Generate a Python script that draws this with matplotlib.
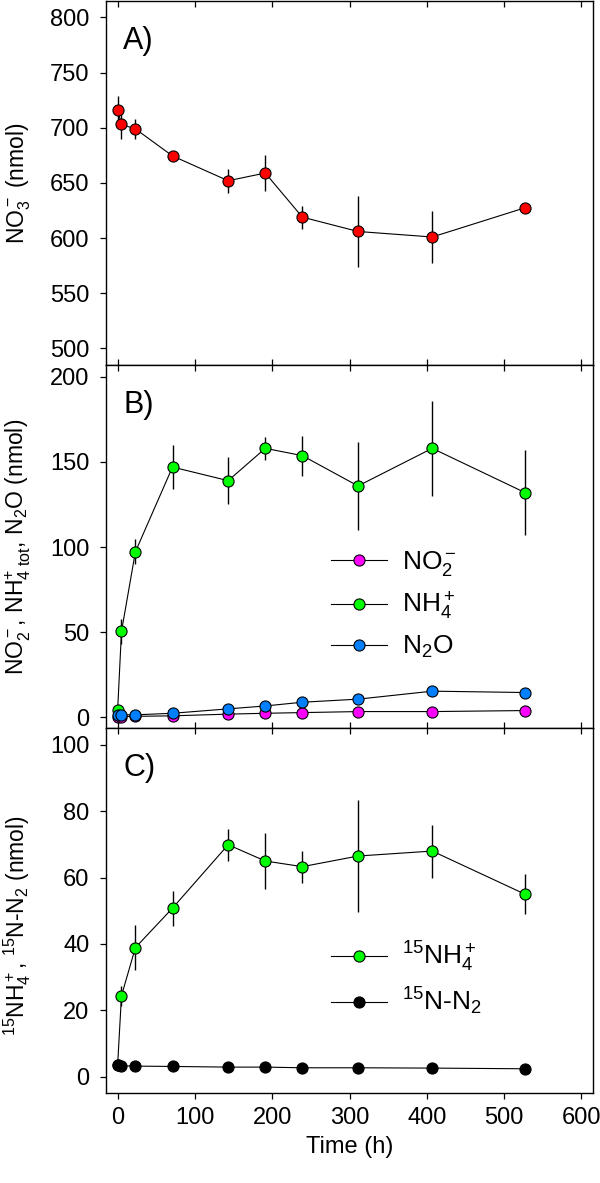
import numpy as np
import matplotlib.pyplot as plt
from matplotlib.lines import Line2D

plt.rcParams['font.family'] = ['Liberation Sans', 'DejaVu Sans']
plt.rcParams['mathtext.fontset'] = 'custom'
plt.rcParams['mathtext.rm'] = 'Liberation Sans'
plt.rcParams['mathtext.it'] = 'Liberation Sans:italic'
plt.rcParams['mathtext.bf'] = 'Liberation Sans:bold'

# sampling times (h)
time = [0, 5, 23, 71, 143, 191, 239, 311, 407, 527]

# panel A: nitrate
no3 = [716, 703, 699, 674.5, 652, 659, 619, 606, 601, 627.5]
no3_err = [13, 13, 9, 0, 11, 16.5, 10.5, 32.5, 23.5, 0]

# panel B: nitrite, ammonium, nitrous oxide
no2 = [0.3, 0.3, 0.5, 0.8, 1.8, 2.3, 2.7, 3.3, 3.3, 3.9]
nh4 = [4, 50.4, 97.2, 147, 139, 158, 153.7, 135.9, 158, 132]
nh4_err = [0, 7.4, 7.4, 12.7, 13.9, 6.9, 11.7, 26, 28, 25]
n2o = [1.5, 1.4, 1.4, 2.3, 4.9, 6.6, 8.8, 10.6, 15.3, 14.5]

# panel C: 15N labelled pools
nh4_15 = [3.5, 24.4, 38.9, 50.8, 69.9, 65.0, 63.3, 66.5, 68.0, 55.0]
nh4_15_err = [0, 3, 6.8, 5.3, 4.8, 8.5, 4.8, 16.8, 8.0, 6.0]
n2_15 = [3.5, 3.3, 3.2, 3.1, 2.9, 2.9, 2.7, 2.7, 2.6, 2.4]

RED = '#ff0000'
GREEN = '#00ff00'
MAGENTA = '#ff00ff'
BLUE = '#0080ff'

fig = plt.figure(figsize=(6, 11.83), dpi=100)
left, width = 0.1767, 0.8117
axA = fig.add_axes([left, 0.6915, width, 0.3077])
axB = fig.add_axes([left, 0.3844, width, 0.3071])
axC = fig.add_axes([left, 0.0758, width, 0.3086])

ms = 8
lw = 0.8

def series(ax, y, color, err=None, z=3):
    if err is not None:
        ax.errorbar(time, y, yerr=err, fmt='none', ecolor='black',
                    elinewidth=1.0, capsize=0, zorder=z)
    ax.plot(time, y, '-o', color='black', lw=lw, markerfacecolor=color,
            markeredgecolor='black', markeredgewidth=0.8, markersize=ms, zorder=z)

series(axA, no3, RED, no3_err)

series(axB, no2, MAGENTA, z=3)
series(axB, nh4, GREEN, nh4_err, z=4)
series(axB, n2o, BLUE, z=5)

series(axC, nh4_15, GREEN, nh4_15_err, z=3)
series(axC, n2_15, 'black', z=4)

axA.set_ylim(485, 815)
axA.set_yticks(np.arange(500, 801, 50))
axB.set_ylim(-6.5, 207)
axB.set_yticks(np.arange(0, 201, 50))
axC.set_ylim(-5, 105)
axC.set_yticks(np.arange(0, 101, 20))

for ax in (axA, axB, axC):
    ax.set_xlim(-15, 615)
    ax.set_xticks(np.arange(0, 601, 100))
    for s in ax.spines.values():
        s.set_linewidth(1.0)
    ax.tick_params(axis='y', direction='out', length=4, width=0.9,
                   labelsize=17, pad=8, right=False)
    ax.tick_params(axis='x', which='both', top=True, direction='in',
                   length=4, width=0.9, labelsize=17)
    ax.yaxis.set_label_coords(-0.15, 0.5)

axA.tick_params(axis='x', labelbottom=False)
axB.tick_params(axis='x', labelbottom=False)
axC.tick_params(axis='x', bottom=True, direction='out', pad=6)
axC.tick_params(axis='x', top=True)
# top ticks point in, bottom ticks out on the last panel
for t in axC.xaxis.get_major_ticks():
    t.tick2line.set_marker(3)

axA.set_ylabel(r'NO$_3^-$ (nmol)', fontsize=16.5)
axB.set_ylabel(r'NO$_2^-$, NH$_{4\ \mathrm{tot}}^{+}$, N$_2$O (nmol)', fontsize=16.5)
axC.set_ylabel(r'$^{15}$NH$_4^+$, $^{15}$N-N$_2$ (nmol)', fontsize=16.5)
axC.yaxis.set_label_coords(-0.15, 0.46)
axC.set_xlabel('Time (h)', fontsize=17, labelpad=5)

for ax, letter in ((axA, 'A)'), (axB, 'B)'), (axC, 'C)')):
    ax.text(0.035, 0.89, letter, transform=ax.transAxes, fontsize=22,
            ha='left', va='center')

def handle(color):
    return Line2D([], [], color='black', lw=lw, marker='o', markersize=ms,
                  markerfacecolor=color, markeredgecolor='black', markeredgewidth=0.8)

axB.legend([handle(MAGENTA), handle(GREEN), handle(BLUE)],
           [r'NO$_2^-$', r'NH$_4^+$', r'N$_2$O'],
           loc='upper left', bbox_to_anchor=(0.461, 0.493), frameon=False,
           fontsize=19, handlelength=2.15, handletextpad=0.55,
           labelspacing=0.45, borderpad=0, borderaxespad=0)

axC.legend([handle(GREEN), handle('black')],
           [r'$^{15}$NH$_4^+$', r'$^{15}$N-N$_2$'],
           loc='upper left', bbox_to_anchor=(0.461, 0.42), frameon=False,
           fontsize=19, handlelength=2.15, handletextpad=0.55,
           labelspacing=0.45, borderpad=0, borderaxespad=0)

fig.savefig('out.png', dpi=100)
